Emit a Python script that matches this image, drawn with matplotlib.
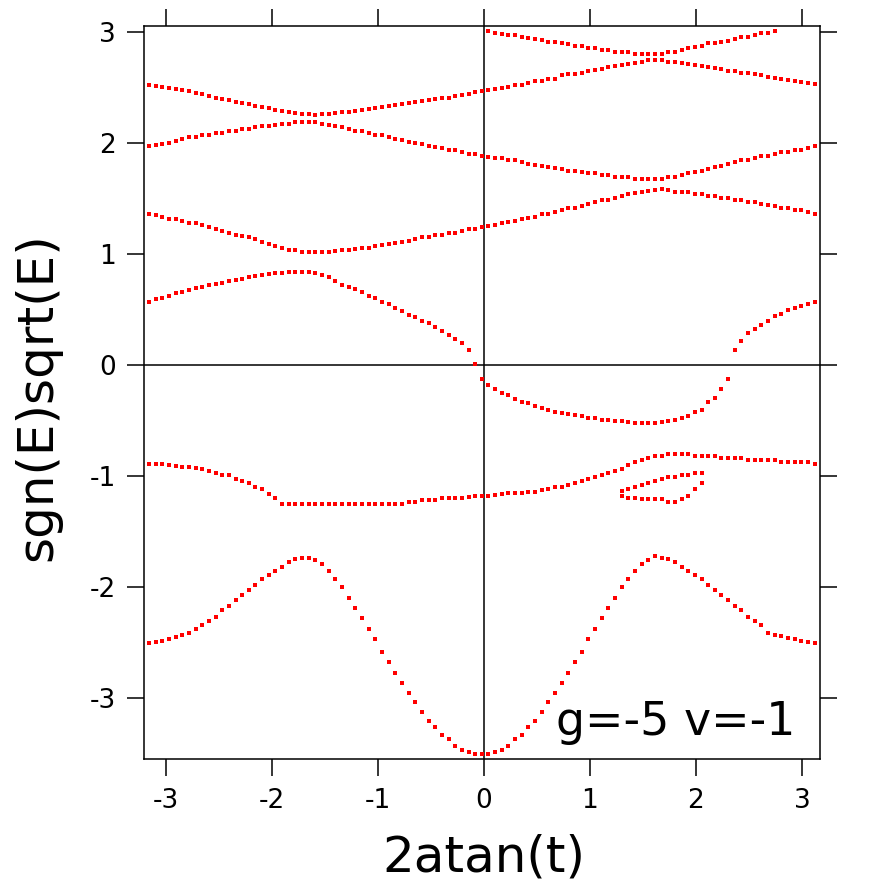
import numpy as np
import matplotlib
matplotlib.use("Agg")
import matplotlib.pyplot as plt

plt.rcParams['font.family'] = ['DejaVu Sans']
plt.rcParams['axes.unicode_minus'] = False

# common grid of 2atan(t) values (101 evenly spaced samples)
x = np.linspace(-3.16, 3.12, 101)

# full bands, one value per grid point
band1 = [2.52, 2.515, 2.505, 2.50, 2.49, 2.48, 2.465, 2.45, 2.44, 2.425,
         2.41, 2.40, 2.385, 2.37, 2.36, 2.35, 2.335, 2.325, 2.315, 2.30,
         2.29, 2.28, 2.27, 2.26, 2.258, 2.256, 2.258, 2.26, 2.27, 2.275,
         2.28, 2.29, 2.30, 2.305, 2.315, 2.32, 2.33, 2.34, 2.35, 2.36,
         2.37, 2.375, 2.385, 2.395, 2.405, 2.41, 2.425, 2.43, 2.445, 2.46,
         2.468, 2.48, 2.485, 2.50, 2.505, 2.52, 2.525, 2.54, 2.555, 2.56,
         2.575, 2.58, 2.61, 2.62, 2.625, 2.635, 2.65, 2.655, 2.67, 2.685,
         2.69, 2.705, 2.71, 2.725, 2.73, 2.745, 2.75, 2.748, 2.73, 2.727,
         2.725, 2.71, 2.705, 2.69, 2.685, 2.673, 2.665, 2.652, 2.645, 2.634,
         2.628, 2.619, 2.61, 2.598, 2.59, 2.577, 2.57, 2.559, 2.55, 2.538, 2.53]

band2 = [1.976, 1.98, 1.99, 2.00, 2.018, 2.033, 2.05, 2.055, 2.07, 2.075,
         2.087, 2.093, 2.105, 2.11, 2.125, 2.13, 2.145, 2.15, 2.155, 2.165,
         2.17, 2.175, 2.185, 2.186, 2.186, 2.185, 2.17, 2.165, 2.15, 2.145,
         2.126, 2.11, 2.105, 2.087, 2.072, 2.068, 2.051, 2.035, 2.03, 2.012,
         1.997, 1.993, 1.976, 1.96, 1.955, 1.937, 1.933, 1.92, 1.903, 1.898,
         1.886, 1.877, 1.868, 1.863, 1.847, 1.843, 1.826, 1.81, 1.805, 1.79,
         1.785, 1.772, 1.768, 1.752, 1.749, 1.735, 1.731, 1.727, 1.713, 1.71,
         1.698, 1.695, 1.69, 1.678, 1.676, 1.675, 1.676, 1.678, 1.69, 1.697,
         1.712, 1.73, 1.737, 1.751, 1.77, 1.786, 1.791, 1.808, 1.826, 1.845,
         1.85, 1.868, 1.88, 1.886, 1.901, 1.918, 1.922, 1.937, 1.941, 1.958, 1.976]

band3 = [1.357, 1.355, 1.336, 1.318, 1.315, 1.30, 1.282, 1.278, 1.264, 1.246,
         1.225, 1.207, 1.186, 1.171, 1.166, 1.15, 1.132, 1.111, 1.093, 1.075,
         1.055, 1.038, 1.033, 1.022, 1.02, 1.02, 1.02, 1.021, 1.024, 1.035,
         1.038, 1.041, 1.054, 1.057, 1.074, 1.078, 1.092, 1.096, 1.11, 1.114,
         1.132, 1.149, 1.153, 1.17, 1.174, 1.186, 1.19, 1.207, 1.224, 1.228,
         1.246, 1.25, 1.264, 1.281, 1.285, 1.30, 1.317, 1.321, 1.336, 1.356,
         1.36, 1.375, 1.395, 1.41, 1.414, 1.432, 1.45, 1.467, 1.485, 1.489,
         1.506, 1.524, 1.541, 1.546, 1.56, 1.565, 1.58, 1.583, 1.58, 1.562,
         1.558, 1.555, 1.543, 1.54, 1.525, 1.521, 1.507, 1.503, 1.486, 1.483,
         1.468, 1.465, 1.45, 1.446, 1.432, 1.414, 1.41, 1.396, 1.392, 1.375, 1.357]

band4 = [0.571, 0.592, 0.607, 0.625, 0.646, 0.661, 0.68, 0.69, 0.706, 0.721,
         0.73, 0.737, 0.755, 0.763, 0.778, 0.795, 0.80, 0.81, 0.82, 0.83,
         0.833, 0.835, 0.835, 0.835, 0.835, 0.833, 0.811, 0.796, 0.757, 0.722,
         0.70, 0.682, 0.661, 0.625, 0.607, 0.571, 0.55, 0.511, 0.486, 0.45,
         0.435, 0.399, 0.381, 0.345, 0.309, 0.27, 0.231, 0.195, 0.138, 0.006,
         -0.126, -0.18, -0.219, -0.255, -0.272, -0.309, -0.33, -0.345, -0.366, -0.384,
         -0.405, -0.42, -0.43, -0.441, -0.455, -0.462, -0.475, -0.482, -0.495, -0.50,
         -0.502, -0.505, -0.515, -0.52, -0.52, -0.52, -0.52, -0.515, -0.505, -0.50,
         -0.48, -0.459, -0.426, -0.405, -0.33, -0.294, -0.219, -0.126,
         0.135, 0.213, 0.288, 0.324, 0.363, 0.399, 0.438, 0.456, 0.495, 0.514,
         0.532, 0.553, 0.571]

band5 = [-0.895, -0.895, -0.895, -0.897, -0.912, -0.916, -0.918, -0.932, -0.936, -0.952,
         -0.973, -0.988, -0.993, -1.027, -1.048, -1.066, -1.10, -1.12, -1.159, -1.195,
         -1.25, -1.25, -1.25, -1.25, -1.25, -1.25, -1.25, -1.25, -1.25, -1.25,
         -1.25, -1.25, -1.25, -1.25, -1.25, -1.25, -1.25, -1.25, -1.25,
         -1.236, -1.233, -1.218, -1.216, -1.214, -1.197, -1.196, -1.195, -1.194, -1.19, -1.178,
         -1.177, -1.177, -1.175, -1.158, -1.156, -1.155, -1.154, -1.142, -1.14, -1.122,
         -1.12, -1.103, -1.10, -1.084, -1.066, -1.048, -1.027, -1.009, -0.991, -0.97,
         -0.952, -0.934, -0.897, -0.877, -0.859, -0.84, -0.822, -0.82, -0.802, -0.80,
         -0.80, -0.801, -0.82, -0.822, -0.823, -0.824, -0.838, -0.84, -0.841, -0.842,
         -0.855, -0.856, -0.857, -0.857, -0.858, -0.874, -0.876, -0.877, -0.877, -0.878, -0.895]

band7 = [-2.508, -2.492, -2.49, -2.471, -2.453, -2.435, -2.417, -2.378, -2.342, -2.303,
         -2.267, -2.207, -2.171, -2.117, -2.075, -2.027, -1.982, -1.928, -1.892, -1.853,
         -1.817, -1.778, -1.745, -1.742, -1.742, -1.76, -1.796, -1.853, -1.928, -2.003,
         -2.096, -2.192, -2.282, -2.375, -2.471, -2.583, -2.676, -2.772, -2.865, -2.958,
         -3.033, -3.126, -3.204, -3.261, -3.336, -3.372, -3.43, -3.466, -3.486, -3.505,
         -3.505, -3.505, -3.483, -3.466, -3.43, -3.372, -3.336, -3.261, -3.204, -3.126,
         -3.033, -2.958, -2.865, -2.772, -2.679, -2.583, -2.471, -2.375, -2.282, -2.192,
         -2.096, -2.003, -1.928, -1.853, -1.796, -1.76, -1.721, -1.742, -1.745, -1.778,
         -1.817, -1.853, -1.892, -1.928, -1.982, -2.027, -2.075, -2.117, -2.171, -2.207,
         -2.267, -2.303, -2.342, -2.417, -2.43, -2.445, -2.458, -2.471, -2.49, -2.498, -2.508]

# partial bands: top band (grid points 51..94) and the small loop (71..83)
top_band = [3.009, 2.988, 2.985, 2.973, 2.97, 2.952, 2.949, 2.934, 2.93, 2.913,
            2.91, 2.898, 2.895, 2.877, 2.874, 2.859, 2.856, 2.838, 2.835, 2.82,
            2.818, 2.816, 2.804, 2.802, 2.80, 2.802, 2.804, 2.818, 2.82, 2.838,
            2.859, 2.862, 2.877, 2.898, 2.90, 2.913, 2.916, 2.934, 2.952, 2.955,
            2.973, 2.988, 2.99, 3.009]
loop_upper = [-1.132, -1.117, -1.102, -1.081, -1.060, -1.045, -1.027,
              -1.006, -1.006, -0.991, -0.991, -0.970, -0.970]
loop_lower = [-1.177, -1.195, -1.195, -1.210, -1.210, -1.210, -1.210,
              -1.231, -1.231, -1.210, -1.177, -1.120, -1.063]

xticks = [-3, -2, -1, 0, 1, 2, 3]
yticks = [-3, -2, -1, 0, 1, 2, 3]

fig = plt.figure(figsize=(8.86, 8.86), dpi=100)
ax = fig.add_axes([144 / 886, 127 / 886, 676 / 886, 733.3 / 886])

ax.axhline(0, color='black', lw=1.1, zorder=1)
ax.axvline(0, color='black', lw=1.1, zorder=1)

dots = dict(ls='none', marker='s', ms=2.7, mew=0, color='#ff0000', zorder=3)
for band in [band1, band2, band3, band4, band5, band7]:
    ax.plot(x, band, **dots)
ax.plot(x[51:95], top_band, **dots)
ax.plot(x[71:84], loop_upper, **dots)
ax.plot(x[71:84], loop_lower, **dots)

ax.set_xlim(-3.207, 3.17)
ax.set_ylim(-3.55, 3.057)
ax.set_xticks(xticks)
ax.set_yticks(yticks)
ax.set_xticklabels([str(v) for v in xticks])
ax.set_yticklabels([str(v) for v in yticks])

for s in ax.spines.values():
    s.set_linewidth(1.1)
ax.tick_params(direction='out', length=12, width=1.1, labelsize=19,
               top=True, right=True, labeltop=False, labelright=False)
ax.tick_params(axis='x', pad=9)
ax.tick_params(axis='y', pad=8)

ax.text(0.963, 0.033, 'g=-5 v=-1', transform=ax.transAxes,
        ha='right', va='baseline', fontsize=33)

fig.text(484 / 886, 14 / 886, '2atan(t)', ha='center', va='baseline', fontsize=36)
fig.text(37 / 886, 489 / 886, 'sgn(E)sqrt(E)', rotation=90,
         ha='center', va='center', fontsize=36)

fig.savefig('out.png', dpi=100)
